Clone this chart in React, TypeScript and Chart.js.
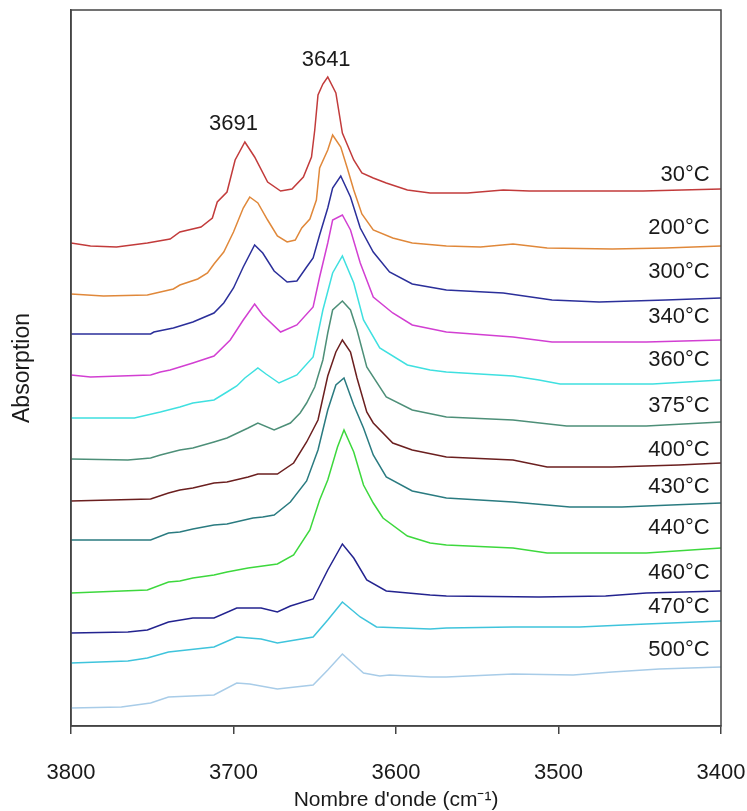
import React, { useEffect, useRef } from 'react';
import { Chart, registerables } from 'chart.js';

Chart.register(...registerables);

// Temperatures (curve labels) and curve colours, top to bottom
const temperatures = ['30°C', '200°C', '300°C', '340°C', '360°C', '375°C', '400°C', '430°C', '440°C', '460°C', '470°C', '500°C'];
const colors = ['#c23b3b', '#e0883a', '#2b2f9a', '#d23fd2', '#3fe0e0', '#4d8f78', '#6b1f1f', '#2a7b80', '#3dd83d', '#23238f', '#3fc4dc', '#a8cce8'];

// Spectra: [wavenumber (cm-1), absorption (offset, a.u.)]
const s30: [number, number][] = [[3800, 4.81], [3788, 4.78], [3772, 4.77], [3753, 4.81], [3739, 4.85], [3733, 4.92], [3720, 4.97], [3713, 5.06], [3710, 5.22], [3704, 5.32], [3699, 5.64], [3693, 5.82], [3687, 5.67], [3679, 5.42], [3671, 5.33], [3664, 5.35], [3657, 5.47], [3652, 5.67], [3650, 5.94], [3648, 6.29], [3645, 6.40], [3642, 6.47], [3637, 6.31], [3633, 5.91], [3626, 5.64], [3621, 5.51], [3614, 5.46], [3606, 5.41], [3593, 5.34], [3579, 5.31], [3556, 5.31], [3534, 5.34], [3518, 5.33], [3487, 5.33], [3448, 5.33], [3400, 5.35]];
const s200: [number, number][] = [[3800, 4.30], [3780, 4.28], [3753, 4.29], [3745, 4.32], [3737, 4.35], [3733, 4.39], [3722, 4.45], [3716, 4.51], [3712, 4.60], [3706, 4.72], [3700, 4.92], [3694, 5.16], [3690, 5.27], [3685, 5.21], [3679, 5.04], [3673, 4.88], [3667, 4.82], [3662, 4.84], [3658, 4.96], [3653, 5.05], [3649, 5.24], [3647, 5.56], [3642, 5.74], [3639, 5.89], [3634, 5.77], [3630, 5.56], [3626, 5.34], [3621, 5.10], [3614, 4.94], [3602, 4.86], [3590, 4.81], [3569, 4.78], [3548, 4.77], [3528, 4.80], [3507, 4.76], [3467, 4.75], [3434, 4.76], [3400, 4.78]];
const s300: [number, number][] = [[3800, 3.90], [3751, 3.90], [3749, 3.92], [3737, 3.96], [3725, 4.02], [3712, 4.11], [3706, 4.21], [3700, 4.36], [3694, 4.57], [3687, 4.79], [3682, 4.71], [3675, 4.53], [3667, 4.42], [3661, 4.43], [3655, 4.57], [3651, 4.66], [3647, 4.89], [3642, 5.16], [3639, 5.36], [3634, 5.48], [3628, 5.27], [3622, 4.96], [3614, 4.72], [3604, 4.52], [3590, 4.40], [3569, 4.34], [3534, 4.31], [3504, 4.24], [3475, 4.22], [3434, 4.24], [3400, 4.26]];
const s340: [number, number][] = [[3800, 3.49], [3788, 3.47], [3751, 3.49], [3745, 3.52], [3739, 3.54], [3733, 3.57], [3725, 3.61], [3712, 3.68], [3702, 3.84], [3694, 4.04], [3687, 4.20], [3682, 4.09], [3671, 3.92], [3661, 3.99], [3651, 4.17], [3647, 4.47], [3642, 4.81], [3639, 5.04], [3633, 5.09], [3628, 4.94], [3622, 4.61], [3614, 4.27], [3602, 4.11], [3590, 3.99], [3569, 3.92], [3528, 3.87], [3504, 3.82], [3446, 3.82], [3400, 3.84]];
const s360: [number, number][] = [[3800, 3.06], [3761, 3.06], [3745, 3.12], [3733, 3.17], [3725, 3.21], [3712, 3.24], [3704, 3.32], [3698, 3.38], [3693, 3.46], [3685, 3.56], [3680, 3.50], [3672, 3.41], [3661, 3.49], [3651, 3.67], [3645, 4.14], [3639, 4.51], [3633, 4.68], [3626, 4.41], [3620, 4.04], [3610, 3.76], [3593, 3.59], [3579, 3.54], [3569, 3.52], [3528, 3.48], [3512, 3.44], [3499, 3.40], [3442, 3.40], [3400, 3.44]];
const s375: [number, number][] = [[3800, 2.65], [3765, 2.64], [3751, 2.66], [3745, 2.69], [3733, 2.74], [3725, 2.76], [3712, 2.82], [3704, 2.86], [3691, 2.96], [3685, 3.01], [3675, 2.94], [3665, 3.01], [3659, 3.11], [3655, 3.21], [3650, 3.37], [3645, 3.64], [3642, 3.91], [3639, 4.14], [3633, 4.23], [3628, 4.14], [3624, 3.94], [3618, 3.57], [3606, 3.27], [3590, 3.14], [3569, 3.07], [3528, 3.04], [3495, 2.98], [3446, 2.98], [3400, 3.02]];
const s400: [number, number][] = [[3800, 2.23], [3751, 2.25], [3740, 2.31], [3733, 2.34], [3725, 2.36], [3712, 2.41], [3704, 2.42], [3691, 2.47], [3685, 2.50], [3673, 2.50], [3663, 2.61], [3655, 2.82], [3648, 3.04], [3642, 3.48], [3637, 3.72], [3633, 3.84], [3628, 3.72], [3624, 3.46], [3618, 3.12], [3614, 3.01], [3602, 2.81], [3590, 2.74], [3569, 2.67], [3528, 2.64], [3507, 2.57], [3467, 2.57], [3426, 2.59], [3400, 2.61]];
const s430: [number, number][] = [[3800, 1.84], [3751, 1.84], [3740, 1.91], [3733, 1.92], [3725, 1.95], [3712, 1.99], [3704, 2.00], [3688, 2.06], [3682, 2.07], [3675, 2.09], [3665, 2.22], [3655, 2.43], [3648, 2.74], [3645, 2.94], [3642, 3.14], [3637, 3.39], [3632, 3.46], [3626, 3.19], [3620, 2.96], [3614, 2.69], [3606, 2.47], [3590, 2.33], [3569, 2.26], [3528, 2.22], [3493, 2.17], [3461, 2.17], [3400, 2.21]];
const s440: [number, number][] = [[3800, 1.31], [3753, 1.34], [3740, 1.42], [3733, 1.43], [3725, 1.46], [3712, 1.49], [3704, 1.52], [3691, 1.56], [3673, 1.60], [3663, 1.69], [3653, 1.94], [3647, 2.24], [3642, 2.44], [3636, 2.77], [3632, 2.94], [3626, 2.72], [3620, 2.39], [3614, 2.21], [3608, 2.06], [3593, 1.88], [3579, 1.81], [3569, 1.79], [3528, 1.76], [3507, 1.71], [3446, 1.71], [3400, 1.76]];
const s460: [number, number][] = [[3800, 0.91], [3765, 0.92], [3753, 0.94], [3740, 1.02], [3725, 1.06], [3712, 1.06], [3698, 1.16], [3683, 1.16], [3673, 1.12], [3665, 1.18], [3651, 1.25], [3642, 1.54], [3633, 1.80], [3626, 1.66], [3618, 1.44], [3606, 1.33], [3579, 1.29], [3569, 1.28], [3512, 1.27], [3471, 1.28], [3446, 1.31], [3400, 1.33]];
const s470: [number, number][] = [[3800, 0.61], [3765, 0.63], [3753, 0.66], [3740, 0.72], [3712, 0.77], [3698, 0.87], [3683, 0.85], [3673, 0.81], [3651, 0.87], [3642, 1.04], [3633, 1.22], [3622, 1.07], [3612, 0.97], [3579, 0.95], [3569, 0.96], [3528, 0.97], [3487, 0.97], [3446, 1.00], [3400, 1.03]];
const s500: [number, number][] = [[3800, 0.16], [3769, 0.17], [3751, 0.21], [3740, 0.27], [3712, 0.29], [3698, 0.41], [3690, 0.40], [3673, 0.35], [3651, 0.39], [3642, 0.54], [3633, 0.70], [3620, 0.51], [3610, 0.48], [3604, 0.49], [3579, 0.47], [3569, 0.47], [3528, 0.50], [3491, 0.49], [3467, 0.52], [3438, 0.55], [3400, 0.57]];

const spectra = [s30, s200, s300, s340, s360, s375, s400, s430, s440, s460, s470, s500];

// Curve label anchors (right-aligned)
const labelWavenumber = 3407;
const labelLevels = [5.49, 4.96, 4.52, 4.07, 3.64, 3.18, 2.74, 2.37, 1.96, 1.51, 1.17, 0.74];

// Peak annotations
const peakTexts = ['3691', '3641'];
const peakWavenumbers = [3700, 3643];
const peakLevels = [6.0, 6.64];

// Axis settings
const xMin = 3400;
const xMax = 3800;
const xStep = 100;
const yMin = -0.02;
const yMax = 7.14;

const FONT = "'Liberation Sans', Arial, sans-serif";

const framePlugin = {
  id: 'frameAndLabels',
  afterDatasetsDraw(chart: any) {
    const { ctx, scales } = chart;
    const xs = scales.x;
    const ys = scales.y;
    ctx.save();
    ctx.fillStyle = '#1a1a1a';
    ctx.font = `22px ${FONT}`;
    ctx.textBaseline = 'middle';
    ctx.textAlign = 'right';
    temperatures.forEach((t, i) => {
      ctx.fillText(t, xs.getPixelForValue(labelWavenumber), ys.getPixelForValue(labelLevels[i]));
    });
    ctx.textAlign = 'center';
    peakTexts.forEach((t, i) => {
      ctx.fillText(t, xs.getPixelForValue(peakWavenumbers[i]), ys.getPixelForValue(peakLevels[i]));
    });
    ctx.restore();
  },
  afterDraw(chart: any) {
    const { ctx, chartArea } = chart;
    ctx.save();
    ctx.strokeStyle = '#444444';
    ctx.lineWidth = 1.5;
    ctx.strokeRect(chartArea.left, chartArea.top, chartArea.right - chartArea.left, chartArea.bottom - chartArea.top);
    ctx.restore();
  },
};

export default function App() {
  const canvasRef = useRef<HTMLCanvasElement | null>(null);

  useEffect(() => {
    document.body.style.margin = '0';
    const canvas = canvasRef.current;
    if (!canvas) return;
    Chart.defaults.font.family = FONT;
    const chart = new Chart(canvas, {
      type: 'line',
      data: {
        datasets: spectra.map((s, i) => ({
          label: temperatures[i],
          data: s.map(([x, y]) => ({ x, y })),
          borderColor: colors[i],
          backgroundColor: colors[i],
          borderWidth: 1.5,
          pointRadius: 0,
          tension: 0,
          fill: false,
        })),
      },
      options: {
        responsive: false,
        animation: false,
        layout: { padding: { top: 10, right: 26, left: 0, bottom: 0 } },
        plugins: {
          legend: { display: false },
          tooltip: { enabled: false },
        },
        scales: {
          x: {
            type: 'linear',
            position: 'bottom',
            min: xMin,
            max: xMax,
            reverse: true,
            afterFit: (scale: any) => {
              scale.height = 85;
              scale.paddingLeft = 0;
              scale.paddingRight = 0;
            },
            ticks: {
              stepSize: xStep,
              color: '#1a1a1a',
              font: { size: 22 },
              padding: 26,
              maxRotation: 0,
              callback: (v: any) => String(v),
            },
            grid: {
              display: true,
              drawOnChartArea: false,
              drawTicks: true,
              tickLength: 8,
              color: '#444444',
              lineWidth: 1.5,
            },
            border: { display: true, color: '#444444', width: 1.5 },
            title: {
              display: true,
              text: "Nombre d'onde (cm⁻¹)",
              color: '#1a1a1a',
              font: { size: 21, lineHeight: 1 },
              padding: { top: 0, bottom: 0 },
            },
          },
          y: {
            type: 'linear',
            min: yMin,
            max: yMax,
            afterFit: (scale: any) => {
              scale.width = 71;
            },
            ticks: { display: false },
            grid: { display: false, drawTicks: false },
            border: { display: true, color: '#444444', width: 1.5 },
            title: {
              display: true,
              text: 'Absorption',
              color: '#1a1a1a',
              font: { size: 23 },
              padding: { top: 9, bottom: 0 },
            },
          },
        },
      },
      plugins: [framePlugin],
    });
    return () => chart.destroy();
  }, []);

  return (
    <div style={{ position: 'absolute', left: 0, top: 0, width: 747, height: 811, background: '#ffffff' }}>
      <canvas ref={canvasRef} width={747} height={811} style={{ display: 'block' }} />
    </div>
  );
}
